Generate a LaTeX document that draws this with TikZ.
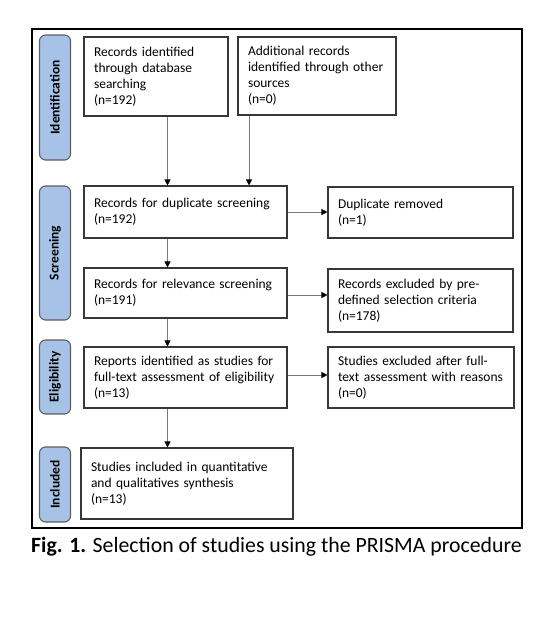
\documentclass[tikz,border=0pt]{standalone}
\usepackage{fontspec}
\setmainfont{Carlito}
\usetikzlibrary{arrows.meta,calc}
\definecolor{labblue}{RGB}{166,195,231}
\definecolor{boxline}{RGB}{55,55,55}
\definecolor{arrline}{RGB}{120,120,120}
\tikzset{
  box/.style={draw=boxline, line width=1.1pt, rectangle, inner xsep=10pt, inner ysep=0pt,
    align=left, font=\fontsize{13.5}{16}\selectfont, text=black},
  lab/.style={draw=boxline!80, line width=1.1pt, rounded corners=6pt, fill=labblue, rotate=90,
    minimum height=31pt, inner sep=0pt, font=\fontsize{13.5}{15}\bfseries\selectfont},
  arr/.style={draw=arrline, line width=0.8pt, -{Triangle[length=6pt,width=6pt,fill=black,color=black]}},
  frame/.style={draw=black, line width=2pt}
}
\begin{document}
\begin{tikzpicture}[x=1pt,y=-1pt]
\useasboundingbox (0,0) rectangle (552,624);
\fill[white] (0,0) rectangle (552,624);
\node[frame, rectangle, minimum width=490pt, minimum height=499pt, inner sep=0pt] (frm) at (277,278.5) {};
% phase labels
\node[lab, minimum width=125pt] (lid) at (55,97.5) {Identification};
\node[lab, minimum width=134pt] (lsc) at (55,253) {Screening};
\node[lab, minimum width=74pt] (lel) at (55,377) {Eligibility};
\node[lab, minimum width=75pt] (lin) at (55,484.5) {Included};
% boxes
\node[box, minimum width=144pt, minimum height=79pt, text width=124pt] (b1) at (156,76.5)
  {Records identified\\through database\\searching\\(n=192)};
\node[box, minimum width=158pt, minimum height=78pt, text width=138pt] (b2) at (317,76)
  {Additional records\\identified through other\\sources\\(n=0)};
\node[box, minimum width=203pt, minimum height=52pt, text width=183pt] (b3) at (185.5,212)
  {Records for duplicate screening\\(n=192)};
\node[box, minimum width=185pt, minimum height=51pt, text width=165pt] (b4) at (420.5,212.5)
  {Duplicate removed\\(n=1)};
\node[box, minimum width=203pt, minimum height=50pt, text width=183pt] (b5) at (185.5,293)
  {Records for relevance screening\\(n=191)};
\node[box, minimum width=185pt, minimum height=63pt, text width=165pt] (b6) at (420.5,300.5)
  {Records excluded by pre-\\defined selection criteria\\(n=178)};
\node[box, minimum width=203pt, minimum height=61pt, text width=183pt] (b7) at (185.5,377.5)
  {Reports identified as studies for\\full-text assessment of eligibility\\(n=13)};
\node[box, minimum width=186pt, minimum height=61pt, text width=166pt] (b8) at (421,377.5)
  {Studies excluded after full-\\text assessment with reasons\\(n=0)};
\node[box, minimum width=212pt, minimum height=71pt, text width=192pt] (b9) at (187,483.5)
  {Studies included in quantitative\\and qualitatives synthesis\\(n=13)};
% arrow columns
\coordinate (xa) at (167.5,0);
\coordinate (xb) at (249,0);
\draw[arr] (b1.south -| xa) -- (b3.north -| xa);
\draw[arr] (b2.south -| xb) -- (b3.north -| xb);
\draw[arr] (b3.south -| xa) -- (b5.north -| xa);
\draw[arr] (b5.south -| xa) -- (b7.north -| xa);
\draw[arr] (b7.south -| xa) -- (b9.north -| xa);
\draw[arr] (b3.east) -- (b4.west |- b3.east);
\coordinate (ya) at (0,295);
\draw[arr] (b5.east |- ya) -- (b6.west |- ya);
\coordinate (yb) at (0,375);
\draw[arr] (b7.east |- yb) -- (b8.west |- yb);
% caption
\node[anchor=base west, inner sep=0pt, font=\fontsize{21.8}{26}\selectfont] (cap) at (31,552)
  {\textbf{Fig. 1.} Selection of studies using the PRISMA procedure};
\end{tikzpicture}
\end{document}
